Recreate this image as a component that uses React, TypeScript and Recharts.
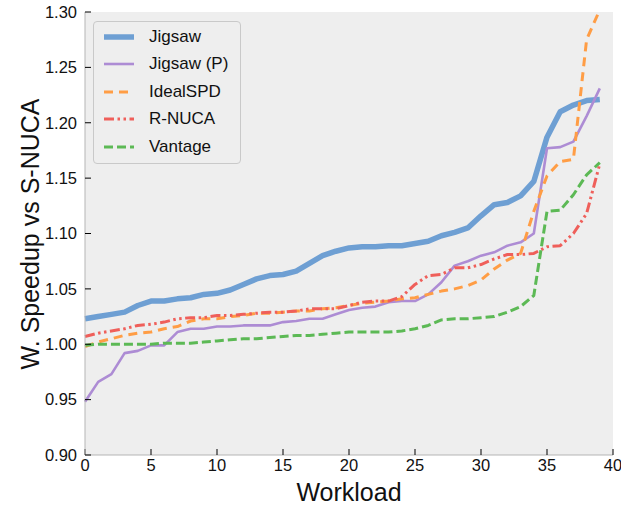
import React from 'react';
import { LineChart, Line, XAxis, YAxis, CartesianGrid, Legend } from 'recharts';

const workloads = [0,1,2,3,4,5,6,7,8,9,10,11,12,13,14,15,16,17,18,19,20,21,22,23,24,25,26,27,28,29,30,31,32,33,34,35,36,37,38,39];

const jigsaw = [1.023,1.025,1.027,1.029,1.035,1.039,1.039,1.041,1.042,1.045,1.046,1.049,1.054,1.059,1.062,1.063,1.066,1.073,1.080,1.084,1.087,1.088,1.088,1.089,1.089,1.091,1.093,1.098,1.101,1.105,1.116,1.126,1.128,1.134,1.147,1.187,1.210,1.216,1.220,1.221];
const jigsawP = [0.948,0.966,0.973,0.992,0.994,0.999,0.999,1.011,1.014,1.014,1.016,1.016,1.017,1.017,1.017,1.020,1.021,1.023,1.023,1.027,1.031,1.033,1.034,1.038,1.039,1.039,1.045,1.056,1.071,1.075,1.080,1.083,1.089,1.092,1.100,1.177,1.178,1.183,1.206,1.231];
const idealSPD = [0.998,1.002,1.005,1.008,1.010,1.011,1.014,1.016,1.021,1.023,1.023,1.025,1.026,1.028,1.028,1.029,1.030,1.030,1.032,1.033,1.035,1.037,1.038,1.039,1.041,1.042,1.045,1.048,1.050,1.053,1.058,1.068,1.076,1.082,1.120,1.152,1.165,1.167,1.275,1.302];
const rnuca = [1.007,1.010,1.012,1.014,1.017,1.018,1.020,1.023,1.024,1.024,1.026,1.026,1.027,1.028,1.029,1.029,1.030,1.032,1.032,1.032,1.035,1.038,1.039,1.039,1.043,1.054,1.062,1.063,1.069,1.069,1.072,1.077,1.081,1.081,1.082,1.088,1.089,1.100,1.118,1.163];
const vantage = [0.999,1.000,1.000,1.000,1.000,1.000,1.001,1.001,1.001,1.002,1.003,1.004,1.005,1.005,1.006,1.007,1.008,1.008,1.009,1.010,1.011,1.011,1.011,1.011,1.012,1.014,1.017,1.022,1.023,1.023,1.024,1.025,1.029,1.034,1.044,1.120,1.121,1.135,1.153,1.164];

const xTicks = [0,5,10,15,20,25,30,35,40];
const yTicks = [0.9,0.95,1.0,1.05,1.1,1.15,1.2,1.25,1.3];

const seriesNames = ['Jigsaw', 'Jigsaw (P)', 'IdealSPD', 'R-NUCA', 'Vantage'];

const data = workloads.map((x, i) => ({
  x,
  jigsaw: jigsaw[i],
  jigsawP: jigsawP[i],
  idealSPD: idealSPD[i],
  rnuca: rnuca[i],
  vantage: vantage[i],
}));

const FONT = '"Liberation Sans", Arial, Helvetica, sans-serif';

const series = [
  { key: 'jigsaw', name: seriesNames[0], color: '#6e9fd3', width: 5.5, dash: undefined as string | undefined },
  { key: 'jigsawP', name: seriesNames[1], color: '#ad8cd4', width: 2.6, dash: undefined as string | undefined },
  { key: 'idealSPD', name: seriesNames[2], color: '#ff9d45', width: 3, dash: '9 6' },
  { key: 'rnuca', name: seriesNames[3], color: '#ef5f5a', width: 3, dash: '10 3.5 2.5 3.5 2.5 3.5' },
  { key: 'vantage', name: seriesNames[4], color: '#5cb955', width: 3, dash: '9 4' },
];

function LegendBox() {
  return (
    <div
      style={{
        position: 'relative',
        width: 148,
        height: 143,
        border: '1px solid #c9c9c9',
        borderRadius: 4,
        background: '#eeeeee',
        boxSizing: 'border-box',
        fontFamily: FONT,
        fontSize: 17,
        color: '#111',
      }}
    >
      {series.map((s, i) => {
        const cy = 15 + i * 27.4;
        return (
          <div key={s.key} style={{ position: 'absolute', left: 0, top: cy - 12, height: 24, width: 146 }}>
            <svg width={40} height={24} style={{ position: 'absolute', left: 0, top: 0 }}>
              <line x1={10} y1={12} x2={40} y2={12} stroke={s.color} strokeWidth={s.width} strokeDasharray={s.dash} />
            </svg>
            <span style={{ position: 'absolute', left: 55, top: 12, transform: 'translateY(-50%)', lineHeight: '20px', whiteSpace: 'nowrap' }}>
              {s.name}
            </span>
          </div>
        );
      })}
    </div>
  );
}

export default function App() {
  return (
    <div style={{ position: 'absolute', left: 0, top: 0, width: 621, height: 508, background: '#ffffff' }}>
      <LineChart width={621} height={508} data={data} margin={{ top: 12, right: 8, left: 0, bottom: 0 }}>
        <CartesianGrid xAxisId="b" yAxisId="l" stroke="none" fill="#eeeeee" horizontal={false} vertical={false} />
        <XAxis
          xAxisId="b"
          dataKey="x"
          type="number"
          domain={[0, 40]}
          ticks={xTicks}
          interval={0}
          height={53}
          tickSize={-6}
          tickMargin={10}
          axisLine={{ stroke: '#b5b5b5' }}
          tickLine={{ stroke: '#000' }}
          tick={{ fill: '#111', fontSize: 16.5, fontFamily: FONT }}
          label={{
            content: () => (
              <text x={349} y={501} textAnchor="middle" fontSize={25} fontFamily={FONT} fill="#111">
                Workload
              </text>
            ),
          }}
        />
        <XAxis
          xAxisId="t"
          orientation="top"
          dataKey="x"
          type="number"
          domain={[0, 40]}
          ticks={xTicks}
          interval={0}
          height={0}
          tickSize={-6}
          axisLine={{ stroke: '#b5b5b5' }}
          tickLine={{ stroke: '#000' }}
          tick={false}
        />
        <YAxis
          yAxisId="l"
          type="number"
          domain={[0.9, 1.3]}
          ticks={yTicks}
          interval={0}
          width={85}
          allowDataOverflow
          tickSize={-6}
          tickMargin={14}
          axisLine={{ stroke: '#b5b5b5' }}
          tickLine={{ stroke: '#000' }}
          tickFormatter={(v: number) => v.toFixed(2)}
          tick={{ fill: '#111', fontSize: 16.5, fontFamily: FONT }}
          label={{
            content: () => (
              <text
                x={30}
                y={234}
                transform="rotate(-90 30 234)"
                textAnchor="middle"
                dominantBaseline="central"
                fontSize={25}
                fontFamily={FONT}
                fill="#111"
              >
                W. Speedup vs S-NUCA
              </text>
            ),
          }}
        />
        <YAxis
          yAxisId="r"
          orientation="right"
          type="number"
          domain={[0.9, 1.3]}
          ticks={yTicks}
          interval={0}
          width={0}
          tickSize={-6}
          axisLine={{ stroke: '#b5b5b5' }}
          tickLine={{ stroke: '#000' }}
          tick={false}
        />
        <Legend
          layout="vertical"
          align="center"
          verticalAlign="middle"
          wrapperStyle={{ left: 93, top: 21, width: 148, height: 143 }}
          content={() => <LegendBox />}
        />
        {series.map((s) => (
          <Line
            key={s.key}
            xAxisId="b"
            yAxisId="l"
            type="linear"
            dataKey={s.key}
            name={s.name}
            stroke={s.color}
            strokeWidth={s.width}
            strokeDasharray={s.dash}
            strokeLinejoin="round"
            dot={false}
            activeDot={false}
            isAnimationActive={false}
          />
        ))}
      </LineChart>
    </div>
  );
}
